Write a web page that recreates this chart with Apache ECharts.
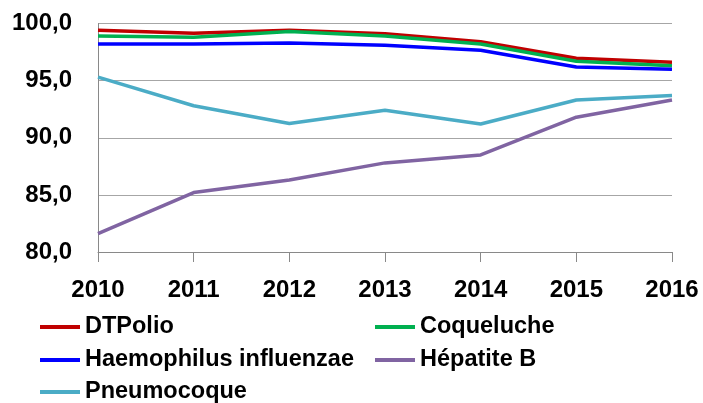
<!DOCTYPE html>
<html><head><meta charset="utf-8">
<script src="https://cdn.jsdelivr.net/npm/echarts@6/dist/echarts.min.js"></script>
<style>html,body{margin:0;padding:0;background:#fff}#c{width:703px;height:403px}</style>
</head><body><div id="c"></div>
<script>
const years = ['2010','2011','2012','2013','2014','2015','2016'];
const dtpolio = [99.4, 99.15, 99.4, 99.1, 98.4, 96.95, 96.6];
const coqueluche = [98.9, 98.8, 99.3, 98.9, 98.2, 96.7, 96.3];
const haemophilus = [98.2, 98.2, 98.3, 98.1, 97.65, 96.2, 96.0];
const hepatiteB = [81.6, 85.2, 86.3, 87.8, 88.5, 91.8, 93.3];
const pneumocoque = [95.3, 92.8, 91.25, 92.4, 91.2, 93.3, 93.7];
const names = ['DTPolio','Coqueluche','Haemophilus influenzae','Hépatite B','Pneumocoque'];
const colors = ['#c00000','#00b050','#0000ff','#8064a2','#4bacc6'];
const values = [dtpolio, coqueluche, haemophilus, hepatiteB, pneumocoque];
const FONT = '"Liberation Sans", Arial, sans-serif';
const chart = echarts.init(document.getElementById('c'));
const legendText = {fontFamily: FONT, fontWeight: 'bold', fontSize: 23.5, color: '#000'};
const legendPos = [[40, 315], [375, 315], [40, 348], [375, 348], [40, 380]];
chart.setOption({
  animation: false,
  color: colors,
  grid: {left: 98, right: 31, top: 23.5, bottom: 151, containLabel: false},
  legend: names.map((n, i) => ({
    data: [n], left: legendPos[i][0], top: legendPos[i][1], itemWidth: 40, itemHeight: 4,
    icon: 'rect', textStyle: legendText, padding: 0
  })),
  xAxis: {
    type: 'category', data: years, boundaryGap: false,
    axisLine: {lineStyle: {color: '#898989', width: 1}},
    axisTick: {show: true, length: 10, lineStyle: {color: '#898989'}},
    axisLabel: {fontFamily: FONT, fontWeight: 'bold', fontSize: 24, color: '#000', margin: 26}
  },
  yAxis: {
    type: 'value', min: 80, max: 100, interval: 5,
    axisLine: {show: true, lineStyle: {color: '#898989', width: 1}},
    axisTick: {show: false},
    splitLine: {lineStyle: {color: '#a6a6a6', width: 1}},
    axisLabel: {fontFamily: FONT, fontWeight: 'bold', fontSize: 24, color: '#000', margin: 26,
      formatter: v => v.toFixed(1).replace('.', ',')}
  },
  series: names.map((n, i) => ({
    name: n, type: 'line', data: values[i], symbol: 'none',
    lineStyle: {width: 3.5, color: colors[i]}, itemStyle: {color: colors[i]}
  }))
});
</script></body></html>
